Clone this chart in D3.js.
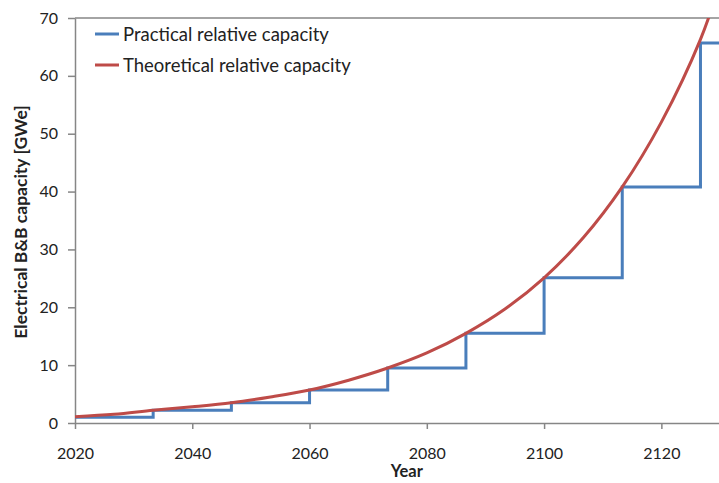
<!DOCTYPE html>
<html>
<head>
<meta charset="utf-8">
<script src="https://cdn.jsdelivr.net/npm/d3@7"></script>
<style>
  html, body { margin: 0; padding: 0; background: #fff; }
  svg { display: block; }
  text { font-family: Lato, "Open Sans", sans-serif; fill: #222; }
</style>
</head>
<body>
<svg id="chart" width="719" height="483"></svg>
<script>
// Practical capacity: built in blocks, one step every 13⅓ years
const stepYears = [2020, 2033.33, 2046.67, 2060, 2073.33, 2086.67, 2100, 2113.33, 2126.67, 2130];
const stepValues = [1.0, 2.2, 3.5, 5.7, 9.5, 15.5, 25.1, 40.8, 65.7, 65.7];

// Theoretical capacity curve (GWe)
const theoYears = [2020, 2026.67, 2033.33, 2040, 2046.67, 2053.33, 2060, 2066.67, 2073.33, 2080, 2086.67, 2093.33, 2100, 2106.67, 2113.33, 2120, 2126.67, 2130];
const theoValues = [1.1, 1.5, 2.2, 2.8, 3.5, 4.5, 5.7, 7.4, 9.5, 12.1, 15.5, 19.7, 25.1, 32.0, 40.8, 52.0, 66.3, 76.0];

const xTicks = [2020, 2040, 2060, 2080, 2100, 2120];
const yTicks = [0, 10, 20, 30, 40, 50, 60, 70];

const seriesNames = ["Practical relative capacity", "Theoretical relative capacity"];
const seriesColors = ["#4A7EBB", "#BE4B48"];

const svg = d3.select("#chart");
const mLeft = 75, mRight = 720, mTop = 18, mBottom = 423;

const x = d3.scaleLinear().domain([2020, 2130]).range([mLeft, mRight]);
const y = d3.scaleLinear().domain([0, 70]).range([mBottom, mTop]);

svg.append("defs").append("clipPath").attr("id", "plotClip")
  .append("rect").attr("x", mLeft).attr("y", mTop).attr("width", mRight - mLeft).attr("height", mBottom - mTop);

const axisColor = "#868686";

// Top frame line
svg.append("line")
  .attr("x1", mLeft).attr("x2", mRight).attr("y1", mTop).attr("y2", mTop)
  .attr("stroke", axisColor).attr("stroke-width", 1.5);

// Y axis
const yAxis = svg.append("g").attr("transform", `translate(${mLeft},0)`)
  .call(d3.axisLeft(y).tickValues(yTicks).tickSize(7).tickSizeOuter(0).tickPadding(10).tickFormat(d3.format("d")));
// X axis
const xAxis = svg.append("g").attr("transform", `translate(0,${mBottom})`)
  .call(d3.axisBottom(x).tickValues(xTicks).tickSize(6).tickSizeOuter(0).tickPadding(19).tickFormat(d3.format("d")));

[yAxis, xAxis].forEach(g => {
  g.select(".domain").attr("stroke", axisColor).attr("stroke-width", 1.5);
  g.selectAll(".tick line").attr("stroke", axisColor).attr("stroke-width", 1.5);
  g.selectAll(".tick text").style("font-family", "Lato, 'Open Sans', sans-serif")
    .style("font-size", "16px").attr("fill", "#222");
});

// Axis titles
svg.append("text")
  .attr("x", x(2080) - 20).attr("y", 477)
  .attr("text-anchor", "middle")
  .style("font-size", "16.5px").style("font-weight", "bold")
  .text("Year");

svg.append("text")
  .attr("transform", `translate(27,222) rotate(-90)`)
  .attr("text-anchor", "middle")
  .style("font-size", "17.5px").style("font-weight", "bold")
  .text("Electrical B&B capacity [GWe]");

const plot = svg.append("g").attr("clip-path", "url(#plotClip)");

// Practical capacity as a step line
const stepLine = d3.line()
  .x((d, i) => x(stepYears[i]))
  .y(d => y(d))
  .curve(d3.curveStepAfter);

plot.append("path")
  .datum(stepValues)
  .attr("d", stepLine)
  .attr("fill", "none")
  .attr("stroke", seriesColors[0])
  .attr("stroke-width", 3)
  .attr("stroke-linejoin", "miter");

// Theoretical capacity as a smooth curve
const theoLine = d3.line()
  .x((d, i) => x(theoYears[i]))
  .y(d => y(d))
  .curve(d3.curveCatmullRom.alpha(0.5));

plot.append("path")
  .datum(theoValues)
  .attr("d", theoLine)
  .attr("fill", "none")
  .attr("stroke", seriesColors[1])
  .attr("stroke-width", 3);

// Legend
const legend = svg.append("g").attr("transform", "translate(95,34)");
seriesNames.forEach((name, i) => {
  const row = legend.append("g").attr("transform", `translate(0,${i * 31})`);
  row.append("line").attr("x1", 0).attr("x2", 24).attr("y1", 0).attr("y2", 0)
    .attr("stroke", seriesColors[i]).attr("stroke-width", 3);
  row.append("text").attr("x", 28).attr("y", 7)
    .style("font-size", "18.5px").text(name);
});
</script>
</body>
</html>
